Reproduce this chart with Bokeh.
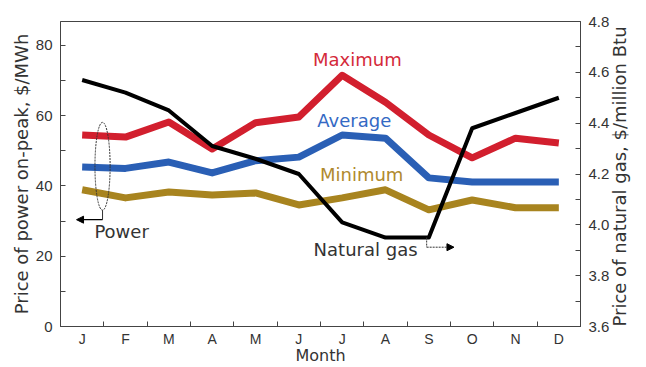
import numpy as np
from bokeh.plotting import figure
from bokeh.models import Range1d, LinearAxis, FixedTicker, Label, Arrow, NormalHead
from bokeh.embed import file_html
from bokeh.resources import INLINE

# ---- data ----
months = ["J", "F", "M", "A", "M", "J", "J", "A", "S", "O", "N", "D"]
maximum = [54.5, 53.9, 58.2, 50.5, 58.0, 59.6, 71.5, 63.8, 54.5, 48.0, 53.6, 52.2]
average = [45.4, 45.0, 46.8, 43.7, 47.2, 48.2, 54.5, 53.6, 42.3, 41.1, 41.1, 41.1]
minimum = [38.9, 36.6, 38.3, 37.4, 38.0, 34.6, 36.6, 38.9, 33.2, 36.0, 33.8, 33.8]
natural_gas = [4.57, 4.52, 4.45, 4.31, 4.26, 4.20, 4.01, 3.95, 3.95, 4.38, 4.44, 4.50]
power_ticks = [0, 20, 40, 60, 80]
power_minor = [10, 30, 50, 70]
gas_ticks = [3.6, 3.8, 4.0, 4.2, 4.4, 4.6, 4.8]
gas_minor = [3.7, 3.9, 4.1, 4.3, 4.5, 4.7]

x = np.arange(len(months)) + 0.5

RED = "#d21f2e"
BLUE = "#2a5fb5"
GOLD = "#a8841f"
FRAME = "#444444"
TXT = "#333333"

p = figure(width=646, height=367, output_backend="svg", toolbar_location=None,
           x_range=Range1d(0, 12), y_range=Range1d(0, 86.8),
           min_border_left=60, min_border_right=66, min_border_top=21, min_border_bottom=39)
p.extra_y_ranges = {"gas": Range1d(3.6, 4.8)}
p.grid.visible = False
p.outline_line_color = FRAME
p.outline_line_width = 1
p.background_fill_color = "white"
p.border_fill_color = "white"

# x axis
xa = p.xaxis[0]
xa.ticker = FixedTicker(ticks=list(x), minor_ticks=list(range(1, 12)))
xa.major_label_overrides = {float(v): m for v, m in zip(x, months)}
xa.major_tick_in = 0
xa.major_tick_out = 0
xa.minor_tick_in = 5
xa.minor_tick_out = 0
xa.minor_tick_line_color = FRAME
xa.axis_line_color = FRAME
xa.major_label_standoff = 4
xa.major_label_text_font = "Liberation Sans"
xa.major_label_text_font_size = "14px"
xa.major_label_text_color = TXT
xa.axis_label = "Month"
xa.axis_label_text_font = "DejaVu Sans"
xa.axis_label_text_font_size = "16px"
xa.axis_label_text_font_style = "normal"
xa.axis_label_text_color = TXT
xa.axis_label_standoff = -4

# left axis
ya = p.yaxis[0]
ya.ticker = FixedTicker(ticks=power_ticks, minor_ticks=power_minor)
ya.major_tick_in = 5
ya.major_tick_out = 0
ya.minor_tick_in = 5
ya.minor_tick_out = 0
ya.major_tick_line_color = FRAME
ya.minor_tick_line_color = FRAME
ya.axis_line_color = FRAME
ya.major_label_standoff = 8
ya.major_label_text_font = "Liberation Sans"
ya.major_label_text_font_size = "15px"
ya.major_label_text_color = TXT
ya.axis_label = "Price of power on-peak, $/MWh"
ya.axis_label_text_font = "DejaVu Sans"
ya.axis_label_text_font_size = "18px"
ya.axis_label_text_font_style = "normal"
ya.axis_label_text_color = TXT
ya.axis_label_standoff = 1

# right axis
ra = LinearAxis(y_range_name="gas",
                ticker=FixedTicker(ticks=gas_ticks, minor_ticks=gas_minor),
                major_label_overrides={v: f"{v:.1f}" for v in gas_ticks})
ra.major_tick_in = 5
ra.major_tick_out = 0
ra.minor_tick_in = 5
ra.minor_tick_out = 0
ra.major_tick_line_color = FRAME
ra.minor_tick_line_color = FRAME
ra.axis_line_color = FRAME
ra.major_label_standoff = 8
ra.major_label_text_font = "Liberation Sans"
ra.major_label_text_font_size = "15px"
ra.major_label_text_color = TXT
ra.axis_label = "Price of natural gas, $/million Btu"
ra.axis_label_text_font = "DejaVu Sans"
ra.axis_label_text_font_size = "18px"
ra.axis_label_text_font_style = "normal"
ra.axis_label_text_color = TXT
ra.axis_label_standoff = 7
props = LinearAxis.properties()
if "axis_label_orientation" in props:
    ra.axis_label_orientation = np.pi / 2
if "axis_label_align" in props:
    ra.axis_label_align = "start"
p.add_layout(ra, "right")

# lines
p.line(x, minimum, line_color=GOLD, line_width=7, line_join="round")
p.line(x, average, line_color=BLUE, line_width=7, line_join="round")
p.line(x, maximum, line_color=RED, line_width=7, line_join="round")
p.line(x, natural_gas, y_range_name="gas", line_color="black", line_width=4, line_join="round")

# "Power" bracket
p.ellipse(x=0.97, y=45.6, width=0.35, height=25, fill_color=None,
          line_color=TXT, line_width=1, line_dash="2 1")
p.segment(x0=0.97, y0=33.1, x1=0.97, y1=30.4, line_color=TXT, line_width=1)
p.add_layout(Arrow(end=NormalHead(size=7, fill_color="black", line_color="black"),
                   x_start=0.97, y_start=30.4, x_end=0.37, y_end=30.4,
                   line_color="black", line_width=1.2))

# "Natural gas" bracket
p.segment(x0=8.45, y0=3.95, x1=8.45, y1=3.912, y_range_name="gas",
          line_color=TXT, line_width=1, line_dash="2 1")
p.add_layout(Arrow(end=NormalHead(size=7, fill_color="black", line_color="black"),
                   x_start=8.45, y_start=3.912, x_end=9.08, y_end=3.912,
                   y_range_name="gas", line_color=TXT, line_width=1, line_dash="2 1"))

def lab(txt, xx, yy, color, size="18px"):
    p.add_layout(Label(x=xx, y=yy, text=txt, text_color=color, text_font="DejaVu Sans",
                       text_font_size=size, text_align="center", text_baseline="middle"))

lab("Maximum", 6.85, 76.0, "#d42a3a")
lab("Average", 6.78, 58.6, "#3469c4")
lab("Minimum", 6.95, 43.3, "#b08a2e")
lab("Natural gas", 7.04, 22.0, TXT)
lab("Power", 1.41, 27.0, TXT)

open("out.html", "w").write(file_html(p, INLINE))
